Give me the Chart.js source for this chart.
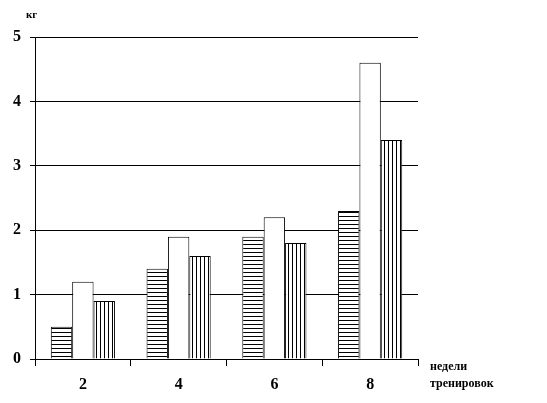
<!DOCTYPE html>
<html><head><meta charset="utf-8">
<script src="https://cdn.jsdelivr.net/npm/chart.js@4"></script>
<style>html,body{margin:0;padding:0;background:#fff}#w{width:547px;height:403px;position:relative}</style>
</head><body><div id="w"><canvas id="c" width="547" height="403"></canvas></div>
<script>
const categories = ['2', '4', '6', '8'];
const seriesA = [0.5, 1.4, 1.9, 2.3];
const seriesB = [1.2, 1.9, 2.2, 4.6];
const seriesC = [0.9, 1.6, 1.8, 3.4];
const yTicks = [0, 1, 2, 3, 4, 5];

function pattern(dir) {
  const p = document.createElement('canvas');
  p.width = 4; p.height = 4;
  const g = p.getContext('2d');
  g.fillStyle = '#fff'; g.fillRect(0, 0, 4, 4);
  g.fillStyle = '#000';
  if (dir === 'h') g.fillRect(0, 0, 4, 1); else g.fillRect(0, 0, 1, 4);
  return document.getElementById('c').getContext('2d').createPattern(p, 'repeat');
}

const labelsPlugin = {
  id: 'extraText',
  afterDraw(chart) {
    const ctx = chart.ctx;
    ctx.save();
    ctx.fillStyle = '#000';
    ctx.textBaseline = 'middle';
    ctx.textAlign = 'left';
    ctx.font = 'bold 11px "Liberation Serif"';
    ctx.fillText('кг', 26, 15);
    ctx.font = 'bold 12px "Liberation Serif"';
    ctx.fillText('недели', 430, 367);
    ctx.fillText('тренировок', 430, 384);
    ctx.restore();
  }
};

new Chart(document.getElementById('c'), {
  type: 'bar',
  data: {
    labels: categories,
    datasets: [
      { data: seriesA, backgroundColor: pattern('h'), borderColor: '#000', borderWidth: 1 },
      { data: seriesB, backgroundColor: '#fff', borderColor: '#000', borderWidth: 1 },
      { data: seriesC, backgroundColor: pattern('v'), borderColor: '#000', borderWidth: 1 }
    ]
  },
  options: {
    responsive: false,
    animation: false,
    devicePixelRatio: 1,
    layout: { padding: { left: 0, right: 129, top: 37, bottom: 0 } },
    plugins: { legend: { display: false }, tooltip: { enabled: false } },
    datasets: { bar: { barPercentage: 1, categoryPercentage: 0.67 } },
    scales: {
      x: {
        afterFit(s) { s.height = 44; },
        grid: { offset: true, drawOnChartArea: false, color: '#000', tickLength: 7, lineWidth: 1 },
        border: { color: '#000', width: 1 },
        ticks: { color: '#000', padding: 9, font: { family: 'Liberation Serif', size: 16, weight: 'bold' } }
      },
      y: {
        min: 0, max: 5,
        afterFit(s) { s.width = 35; },
        afterBuildTicks(s) { s.ticks = yTicks.map(v => ({ value: v })); },
        grid: { color: '#000', tickLength: 5, lineWidth: 1 },
        border: { color: '#000', width: 1 },
        ticks: { color: '#000', padding: 9, font: { family: 'Liberation Serif', size: 16, weight: 'bold' } }
      }
    }
  },
  plugins: [labelsPlugin]
});
</script></body></html>
